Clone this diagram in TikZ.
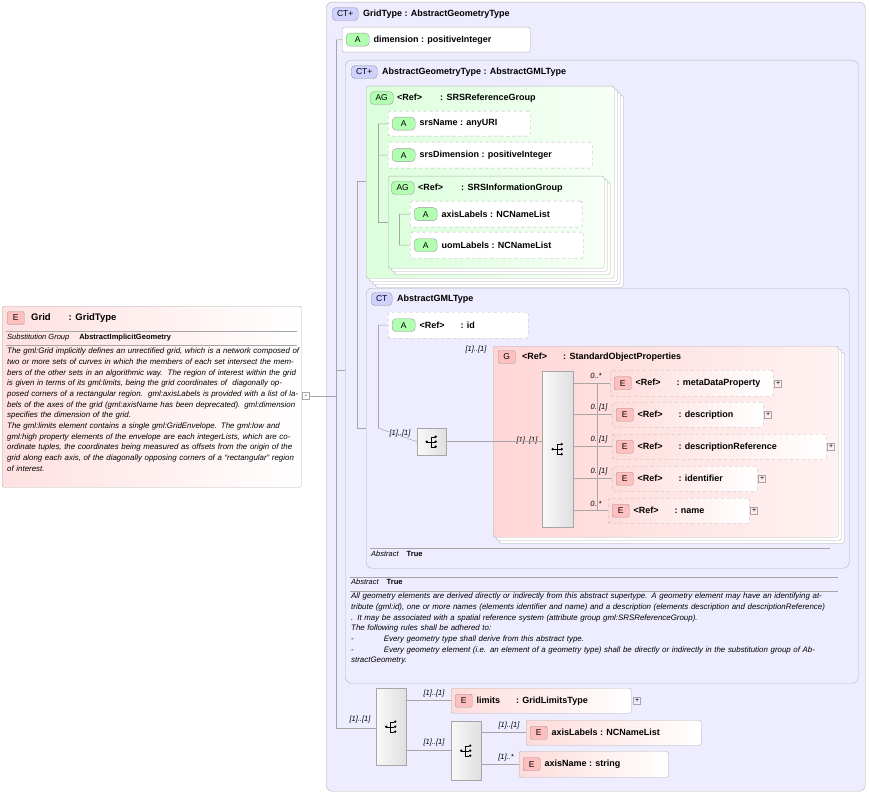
\documentclass[tikz,border=0pt]{standalone}
\usepackage{fontspec}
\setmainfont{Liberation Sans}
\usetikzlibrary{positioning}
\tikzset{
  x=1pt, y=-1pt,
  box/.style={draw=gray!60, rounded corners=1.5pt, anchor=north west, inner sep=0pt},
  ebox/.style={box, left color=red!14, right color=white},
  abox/.style={box, fill=white},
  dbox/.style={box, fill=white, dashed},
  debox/.style={ebox, dashed},
  gbox/.style={box, left color=green!14, right color=green!3},
  pbox/.style={box, left color=red!16, right color=red!5},
  ctbox/.style={draw=gray!60, rounded corners=6pt, anchor=north west, fill=blue!7},
  badge/.style={draw=gray!80, rounded corners=1.5pt, inner sep=1.5pt, font=\fontsize{8.5}{9}\selectfont, anchor=west},
  eb/.style={badge, fill=red!25, minimum width=17pt, minimum height=13pt},
  ab/.style={badge, fill=green!30, minimum width=23pt, minimum height=13pt, rounded corners=4pt},
  ctb/.style={badge, fill=blue!18, minimum width=26pt, minimum height=13pt, rounded corners=4pt},
  lbl/.style={inner sep=1pt, font=\bfseries\fontsize{9}{10}\selectfont, anchor=west},
  mult/.style={inner sep=0.5pt, font=\itshape\fontsize{7.5}{8}\selectfont},
  doc/.style={inner sep=0pt, anchor=north west, align=left, font=\itshape\fontsize{7.9}{10.65}\selectfont},
  comp/.style={draw=gray!70, anchor=north west, inner sep=0pt, left color=gray!5, right color=gray!25},
  plus/.style={draw=gray!70, minimum size=7pt, inner sep=0pt, font=\fontsize{7}{7}\selectfont},
  tree/.style={draw=gray!70, line width=0.5pt},
}
% box with badge and label
\newcommand{\xsdbox}[9]{%
  \node[#6, minimum width=#4pt, minimum height=#5pt] (#1) at (#2,#3) {};
  \node[#7] (#1b) at ([xshift=4pt]#1.west) {#8};
  \node[lbl] (#1t) at ([xshift=3pt]#1b.east) {#9};
}
% sequence compositor
\newcommand{\seqcomp}[5]{%
  \node[comp, minimum width=#4pt, minimum height=#5pt] (#1) at (#2,#3) {};
  \fill ([xshift=-5pt]#1.center) circle (1.3pt);
  \draw ([xshift=-5pt]#1.center) -- ([xshift=-1pt]#1.center);
  \draw ([xshift=-1pt,yshift=-5pt]#1.center) -- ([xshift=-1pt,yshift=5pt]#1.center);
  \foreach \dy in {-5,0,5} {
    \draw ([xshift=-1pt,yshift=\dy pt]#1.center) -- ([xshift=3pt,yshift=\dy pt]#1.center);
    \fill ([xshift=4pt,yshift=\dy pt]#1.center) circle (1.3pt);
  }
}
\begin{document}
\begin{tikzpicture}
\useasboundingbox (0,0) rectangle (869,794);

% Grid element
\node[box, left color=red!12, right color=white, minimum width=299pt, minimum height=181pt] (grid) at (2,306) {};
\node[eb] (gridb) at (7,318) {E};
\node[lbl, font=\bfseries\fontsize{9.5}{10}\selectfont] (gridt) at (30,318) {Grid\hspace{18pt}: GridType};
\draw[gray!70] (6,331) -- (297,331);
\node[doc, font=\itshape\fontsize{7.5}{8}\selectfont] (subst) at (7,334) {Substitution Group\hspace{10pt}\upshape\bfseries AbstractImplicitGeometry};
\draw[gray!70] (6,345) -- (297,345);
\node[doc, text width=292pt] (griddoc) at (7,348) {The gml:Grid implicitly defines an unrectified grid, which is a network composed of two or more sets of curves in which the members of each set intersect the members of the other sets in an algorithmic way.\ \ The region of interest within the grid is given in terms of its gml:limits, being the grid coordinates of\ \ diagonally opposed corners of a rectangular region.\ \ gml:axisLabels is provided with a list of labels of the axes of the grid (gml:axisName has been deprecated). gml:dimension specifies the dimension of the grid.\\The gml:limits element contains a single gml:GridEnvelope. The gml:low and gml:high property elements of the envelope are each integerLists, which are coordinate tuples, the coordinates being measured as offsets from the origin of the grid along each axis, of the diagonally opposing corners of a ``rectangular'' region of interest.};
\node[plus, minimum size=7pt] (minus) at (306,396) {-};

% GridType
\node[ctbox, minimum width=539pt, minimum height=789pt] (gridtype) at (326,2) {};
\node[ctb] (gridtypeb) at (332,14) {CT+};
\node[lbl] (gridtypet) at (362,14) {GridType : AbstractGeometryType};
\xsdbox{dimension}{342}{27}{188}{25}{abox}{ab}{A}{dimension : positiveInteger}

% AbstractGeometryType
\node[ctbox, minimum width=513pt, minimum height=623pt] (geomtype) at (345,60) {};
\node[ctb] (geomtypeb) at (351,72) {CT+};
\node[lbl] (geomtypet) at (381,72) {AbstractGeometryType : AbstractGMLType};

% SRSReferenceGroup
\foreach \o in {9,6,3} {
  \node[box, fill=white, minimum width=248pt, minimum height=192pt] at (366+\o,86+\o) {};
}
\node[gbox, minimum width=248pt, minimum height=192pt] (srsref) at (366,86) {};
\node[ab] (srsrefb) at (370,98) {AG};
\node[lbl] (srsreft) at (396,98) {{<}Ref{>}\hspace{18pt}: SRSReferenceGroup};
\xsdbox{srsname}{388}{111}{142}{25}{dbox}{ab}{A}{srsName : anyURI}
\xsdbox{srsdim}{388}{142}{204}{26}{dbox}{ab}{A}{srsDimension : positiveInteger}
\foreach \o in {6,3} {
  \node[box, fill=white, minimum width=216pt, minimum height=92pt] at (388+\o,176+\o) {};
}
\node[gbox, minimum width=216pt, minimum height=92pt] (srsinfo) at (388,176) {};
\node[ab] (srsinfob) at (391,188) {AG};
\node[lbl] (srsinfot) at (417,188) {{<}Ref{>}\hspace{18pt}: SRSInformationGroup};
\xsdbox{axislab}{410}{201}{172}{26}{dbox}{ab}{A}{axisLabels : NCNameList}
\xsdbox{uomlab}{410}{232}{173}{26}{dbox}{ab}{A}{uomLabels : NCNameList}

% AbstractGMLType
\node[ctbox, minimum width=483pt, minimum height=280pt] (gmltype) at (366,288) {};
\node[ctb, minimum width=21pt] (gmltypeb) at (371,299) {CT};
\node[lbl] (gmltypet) at (396,299) {AbstractGMLType};
\xsdbox{gmlid}{388}{312}{140}{26}{dbox}{ab}{A}{{<}Ref{>}\hspace{16pt}: id}
\seqcomp{seqgml}{417}{428}{29}{27}
\node[mult] at (400,434) {[1]..[1]};

% StandardObjectProperties
\foreach \o in {6,3} {
  \node[box, fill=white, minimum width=345pt, minimum height=191pt] at (493+\o,346+\o) {};
}
\node[pbox, minimum width=345pt, minimum height=191pt] (stdprops) at (493,346) {};
\node[eb] (stdpropsb) at (498,357) {G};
\node[lbl] (stdpropst) at (521,357) {{<}Ref{>}\hspace{16pt}: StandardObjectProperties};
\node[mult] at (476,350) {[1]..[1]};
\node[mult] at (527,441) {[1]..[1]};
\seqcomp{seqstd}{542}{371}{31}{156}
\xsdbox{metadata}{610}{370}{163}{26}{debox}{eb}{E}{{<}Ref{>}\hspace{16pt}: metaDataProperty}
\xsdbox{descr}{612}{402}{151}{25}{debox}{eb}{E}{{<}Ref{>}\hspace{16pt}: description}
\xsdbox{descrref}{612}{434}{214}{25}{debox}{eb}{E}{{<}Ref{>}\hspace{16pt}: descriptionReference}
\xsdbox{ident}{612}{466}{145}{25}{debox}{eb}{E}{{<}Ref{>}\hspace{16pt}: identifier}
\xsdbox{name}{608}{498}{141}{25}{debox}{eb}{E}{{<}Ref{>}\hspace{16pt}: name}
\foreach \n in {metadata,descr,descrref,ident,name} {
  \node[plus, right=1pt of \n] {+};
}
\node[mult] at (596,376) {0..*};
\node[mult] at (599,408) {0..[1]};
\node[mult] at (599,440) {0..[1]};
\node[mult] at (599,472) {0..[1]};
\node[mult] at (596,504) {0..*};

\draw[gray!70] (370,548) -- (830,548);
\node[doc, font=\itshape\fontsize{7.5}{8}\selectfont] at (371,551) {Abstract\hspace{8pt}\upshape\bfseries True};
\draw[gray!70] (350,577) -- (838,577);
\node[doc, font=\itshape\fontsize{7.5}{8}\selectfont] at (351,579) {Abstract\hspace{8pt}\upshape\bfseries True};
\draw[gray!70] (350,591) -- (838,591);
\node[doc, text width=478pt] (geomdoc) at (351,593) {All geometry elements are derived directly or indirectly from this abstract supertype. A geometry element may have an identifying attribute (gml:id), one or more names (elements identifier and name) and a description (elements description and descriptionReference) . It may be associated with a spatial reference system (attribute group gml:SRSReferenceGroup).\\The following rules shall be adhered to:\\-\hspace{30pt}Every geometry type shall derive from this abstract type.\\-\hspace{30pt}Every geometry element (i.e. an element of a geometry type) shall be directly or indirectly in the substitution group of AbstractGeometry.};

% bottom sequence
\seqcomp{seqgrid}{376}{688}{30}{77}
\node[mult] at (360,720) {[1]..[1]};
\xsdbox{limits}{451}{688}{180}{25}{ebox}{eb}{E}{limits\hspace{16pt}: GridLimitsType}
\node[plus, right=2pt of limits] {+};
\node[mult] at (434,694) {[1]..[1]};
\seqcomp{seqaxes}{451}{721}{30}{59}
\node[mult] at (434,743) {[1]..[1]};
\xsdbox{axislabels}{526}{720}{175}{25}{ebox}{eb}{E}{axisLabels : NCNameList}
\node[mult] at (509,726) {[1]..[1]};
\xsdbox{axisname}{519}{751}{149}{26}{ebox}{eb}{E}{axisName : string}
\node[mult] at (506,758) {[1]..*};

% tree lines
\draw[tree] (minus.east) -- (336,396);
\draw[tree] (336,40) -- (336,728);
\draw[tree] (336,40) -- (dimension.west);
\draw[tree] (336,370) -- (geomtype.west |- 0,370);
\draw[tree] (336,728) -- (seqgrid.west |- 0,728);
\draw[tree] (357,181) -- (357,428);
\draw[tree] (357,181) -- (366,181);
\draw[tree] (357,428) -- (366,428);
\draw[tree] (378,124) -- (378,222);
\draw[tree] (378,124) -- (srsname.west);
\draw[tree] (378,155) -- (srsdim.west);
\draw[tree] (378,222) -- (388,222);
\draw[tree] (399,214) -- (399,245);
\draw[tree] (399,214) -- (axislab.west);
\draw[tree] (399,245) -- (uomlab.west);
\draw[tree] (378,325) -- (378,428);
\draw[tree] (378,325) -- (gmlid.west);
\draw[tree] (378,428) -- (seqgml.west);
\draw[tree] (seqgml.east) -- (stdprops.west |- seqgml.east);
\draw[tree] (stdprops.west |- seqgml.east) -- (seqstd.west |- seqgml.east);
\draw[tree] (597,383) -- (597,511);
\foreach \n in {metadata,descr,descrref,ident,name} {
  \draw[tree] (seqstd.east |- \n.west) -- (\n.west);
}
\draw[tree] (seqgrid.east |- limits.west) -- (limits.west);
\draw[tree] (seqgrid.east |- 0,750) -- (seqaxes.west |- 0,750);
\draw[tree] (seqaxes.east |- axislabels.west) -- (axislabels.west);
\draw[tree] (seqaxes.east |- axisname.west) -- (axisname.west);
\end{tikzpicture}
\end{document}
